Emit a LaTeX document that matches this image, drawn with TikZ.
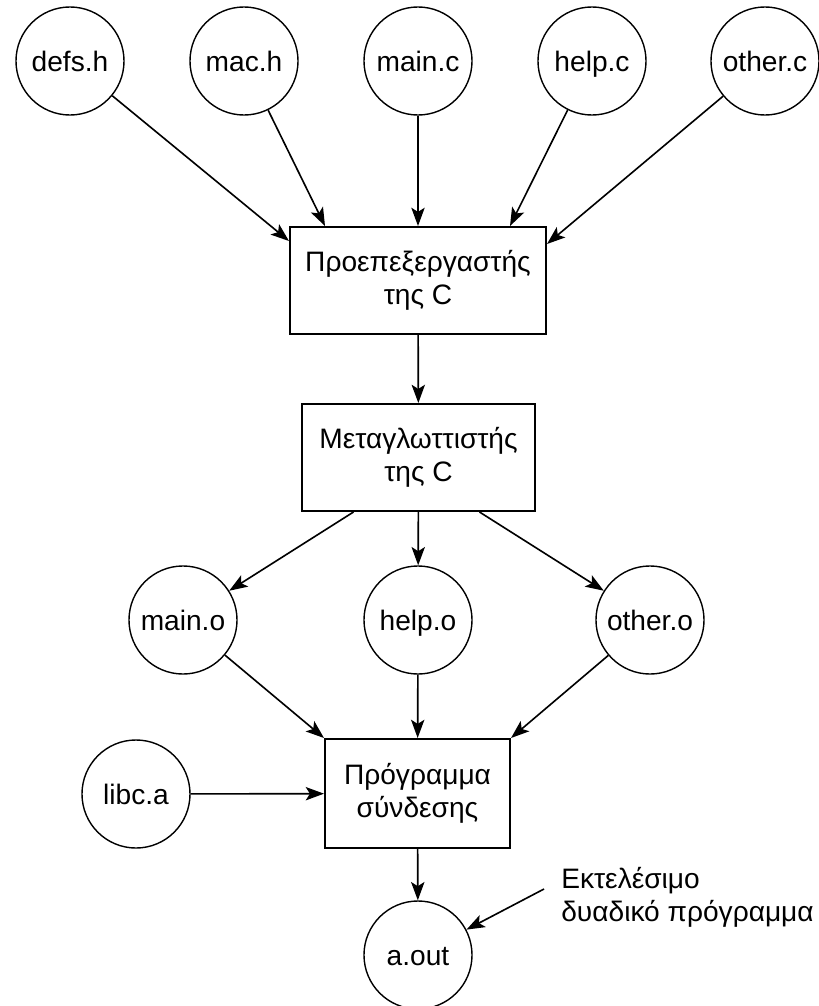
\documentclass[tikz,border=0pt]{standalone}
\usepackage{fontspec}
\setmainfont{Liberation Sans}
\usetikzlibrary{positioning,arrows.meta,calc}

\begin{document}
\begin{tikzpicture}[x=0.025cm,y=-0.025cm,
    every node/.style={font=\fontsize{20pt}{23.5pt}\selectfont},
    file/.style={circle,draw,line width=1pt,minimum size=2.7cm,inner sep=0pt,
        text height=18pt,text depth=2.4pt},
    stage/.style={rectangle,draw,line width=1.4pt,align=center,minimum height=2.675cm},
    flow/.style={-{Stealth[length=13pt,width=9.5pt,inset=3pt]},line width=1.15pt}]
    \useasboundingbox (0,0) rectangle (819,1006);

    % Source files
    \node[file] (defs) at (70,61) {defs.h};
    \node[file] (mac) at (244,61) {mac.h};
    \node[file] (mainc) at (418,61) {main.c};
    \node[file] (helpc) at (592,61) {help.c};
    \node[file] (otherc) at (765,61) {other.c};

    % Preprocessor and compiler
    \node[stage,minimum width=6.4cm] (pre) at (418,280.5) {Προεπεξεργαστής\\της C};
    \node[stage,minimum width=5.825cm] (comp) at (418.5,457.5) {Μεταγλωττιστής\\της C};

    % Object files
    \node[file] (maino) at (183,620) {main.o};
    \node[file] (helpo) at (418,620) {help.o};
    \node[file] (othero) at (650,620) {other.o};

    % Linker
    \node[file] (libc) at (136,794) {libc.a};
    \node[stage,minimum width=4.625cm,minimum height=2.725cm] (link) at (417.5,793.5) {Πρόγραμμα\\σύνδεσης};

    % Output
    \node[file] (aout) at (418,955) {a.out};
    \node[anchor=west,align=left,inner sep=0pt] (exe) at (561,897) {Εκτελέσιμο\\δυαδικό πρόγραμμα};
    \coordinate (exeptr) at (544,889);

    % Arrows
    \draw[flow] (defs) -- ($(pre.north west)+(0,15)$);
    \draw[flow] (mac) -- ($(pre.north)+(-93,0)$);
    \draw[flow] (mainc) -- (pre.north);
    \draw[flow] (helpc) -- ($(pre.north)+(92,0)$);
    \draw[flow] (otherc) -- ($(pre.north east)+(0,18)$);
    \draw[flow] (pre) -- (comp);
    \draw[flow] ($(comp.south)+(-65,0)$) -- (maino);
    \draw[flow] (comp) -- (helpo);
    \draw[flow] ($(comp.south)+(61,0)$) -- (othero);
    \draw[flow] (maino) -- (link.north west);
    \draw[flow] (helpo) -- (link);
    \draw[flow] (othero) -- (link.north east);
    \draw[flow] (libc) -- (link);
    \draw[flow] (link) -- (aout);
    \draw[flow] (exeptr) -- (aout);
\end{tikzpicture}
\end{document}
